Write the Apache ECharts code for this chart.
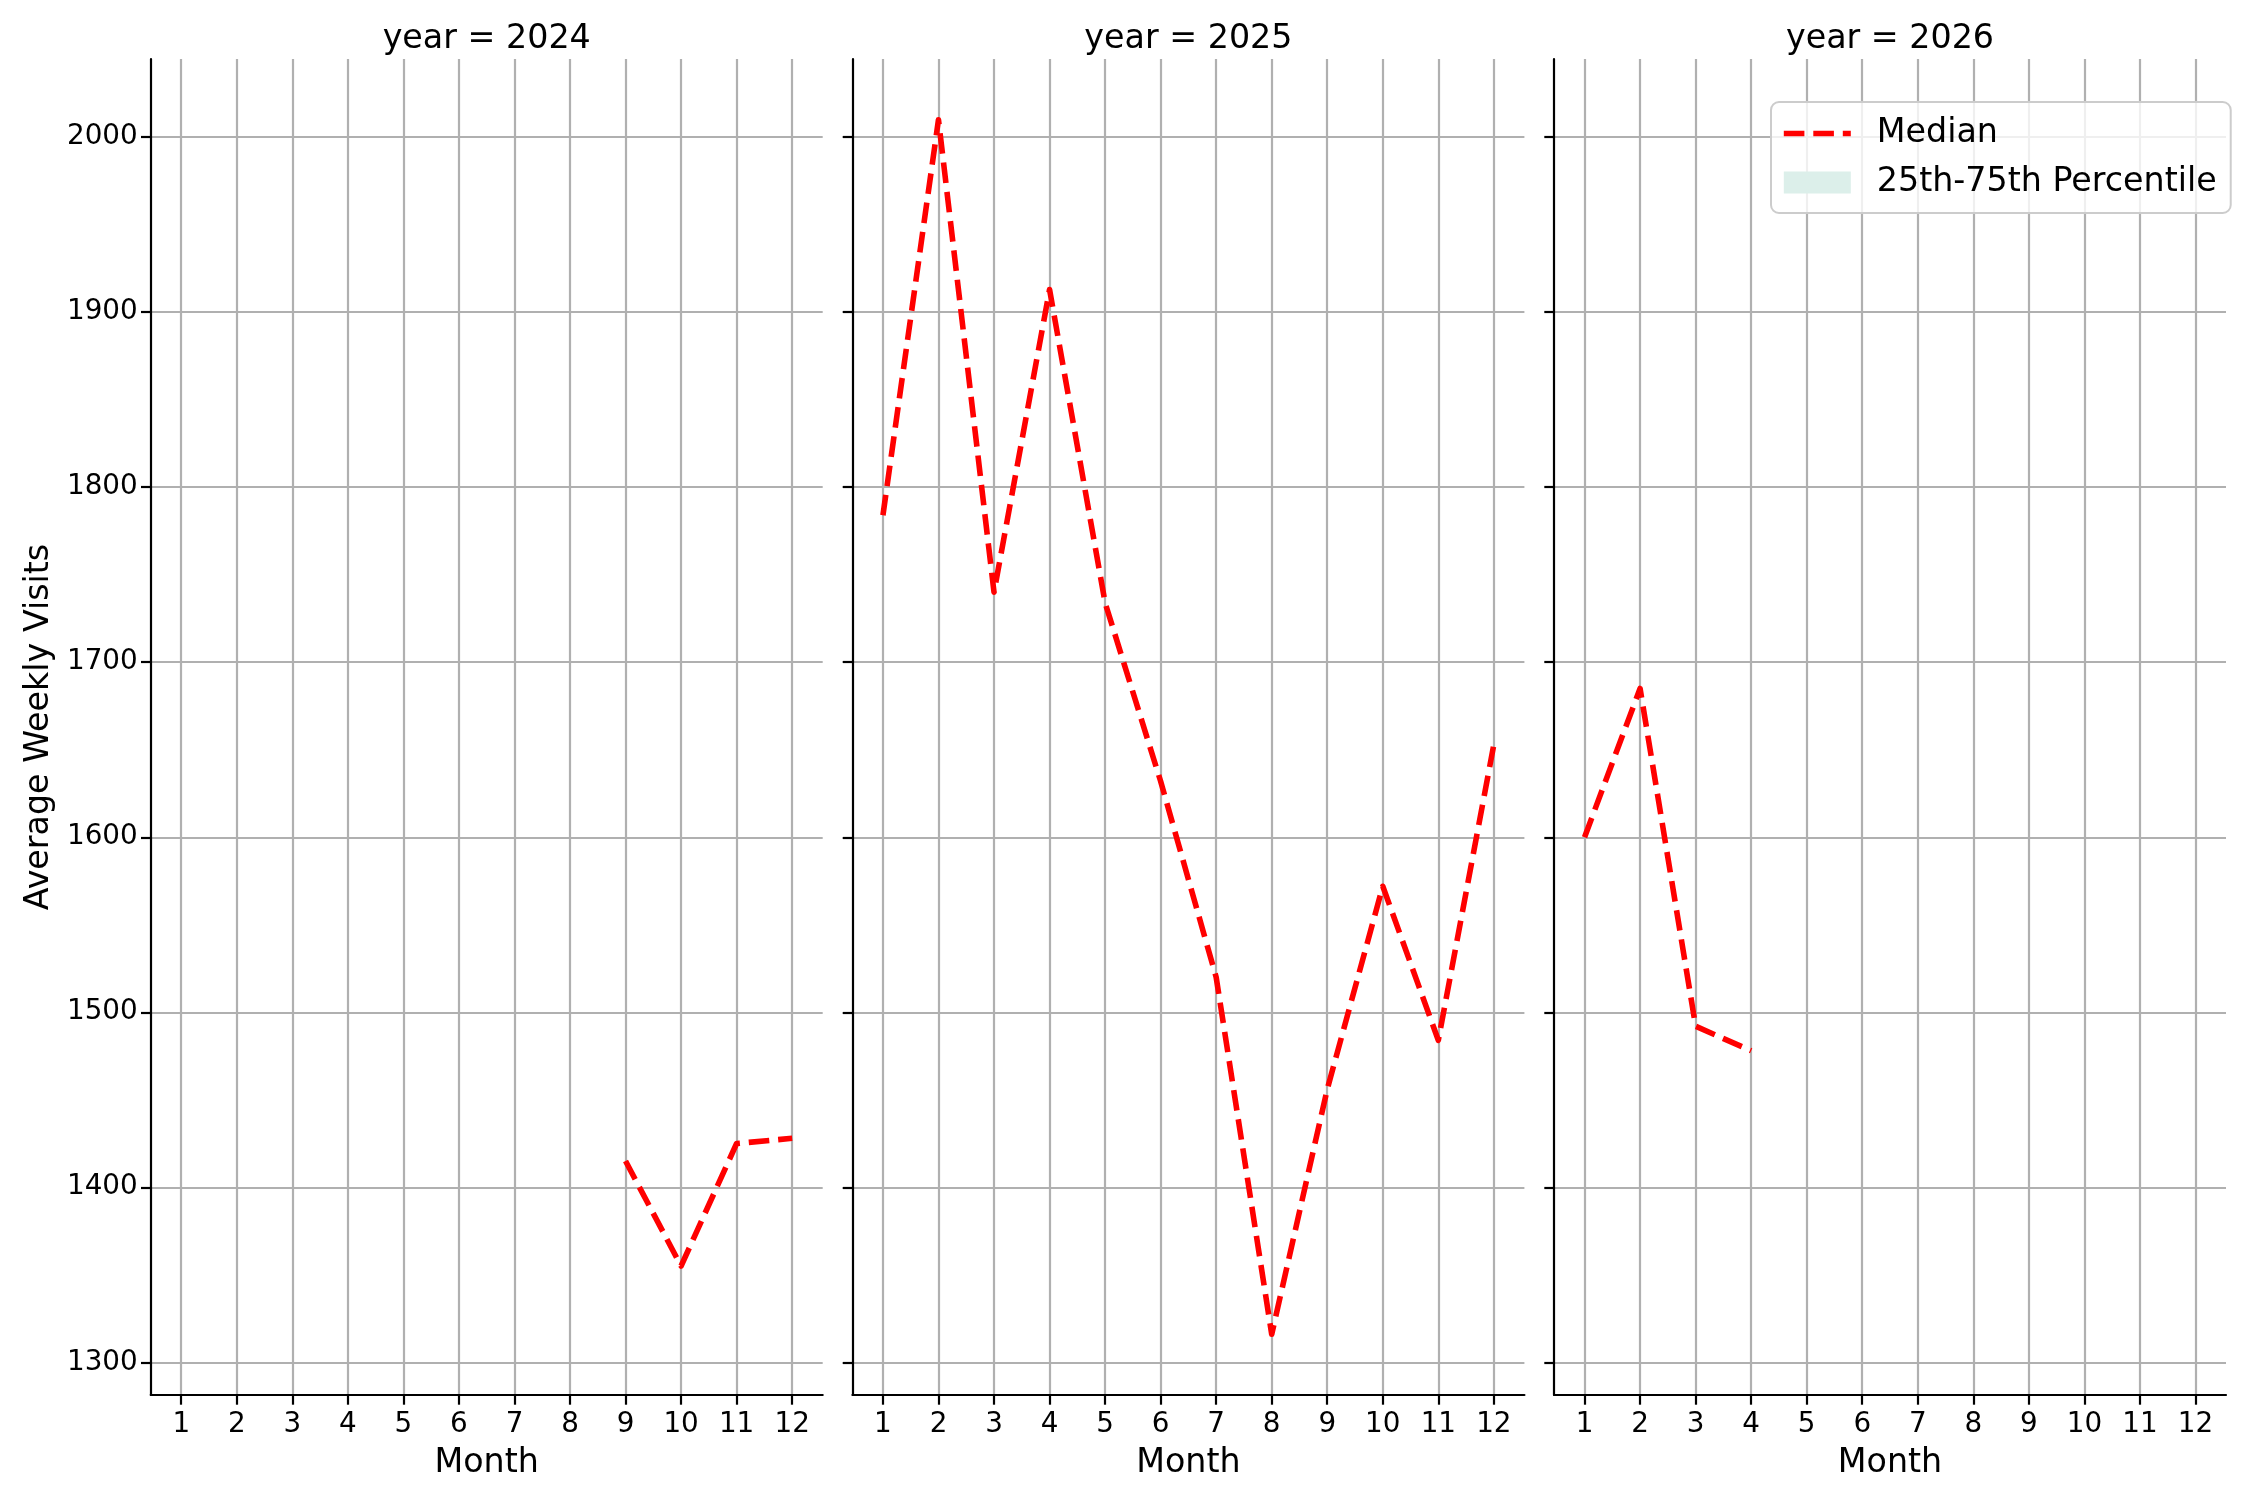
<!DOCTYPE html>
<html><head><meta charset="utf-8">
<script src="https://cdn.jsdelivr.net/npm/echarts@6/dist/echarts.min.js"></script>
<style>html,body{margin:0;padding:0;background:#fff}#c{width:2250px;height:1500px}</style>
</head><body><div id="c"></div>
<script>
// ---- data ----
const years = ['2024', '2025', '2026'];
const monthTicks = [1, 2, 3, 4, 5, 6, 7, 8, 9, 10, 11, 12];
const yTicks = [1300, 1400, 1500, 1600, 1700, 1800, 1900, 2000];
const months2024 = [9, 10, 11, 12];
const median2024 = [1415, 1355, 1425, 1428];
const months2025 = [1, 2, 3, 4, 5, 6, 7, 8, 9, 10, 11, 12];
const median2025 = [1784, 2010, 1740, 1913, 1734, 1632, 1520, 1316, 1456, 1572, 1484, 1653];
const months2026 = [1, 2, 3, 4];
const median2026 = [1600, 1685, 1492, 1478];
const seriesNames = ['Median', '25th-75th Percentile'];
const axisTitles = { x: 'Month', y: 'Average Weekly Visits' };

// ---- layout ----
const FONT = 'DejaVu Sans';
const panelLeft = [150.7, 852.4, 1554];
const panelWidth = 672;
const panelTop = 59;
const panelHeight = 1336;
const yMin = 1281.3, yMax = 2044.7;
const DASH = [20.6, 8.9];

const monthsByYear = [months2024, months2025, months2026];
const medianByYear = [median2024, median2025, median2026];

const grids = [], xAxes = [], yAxes = [], series = [], graphics = [];
years.forEach((yr, i) => {
  grids.push({ left: panelLeft[i], top: panelTop, width: panelWidth, height: panelHeight, containLabel: false, outerBoundsMode: 'none' });
  xAxes.push({
    gridIndex: i, type: 'value', min: 0.45, max: 12.55,
    axisLine: { show: true, onZero: false, lineStyle: { color: '#000', width: 2.2 } },
    axisTick: { show: true, length: 9.7, customValues: monthTicks, lineStyle: { color: '#000', width: 2.2 } },
    axisLabel: { customValues: monthTicks, margin: 16, fontSize: 27.8, color: '#000', fontFamily: FONT,
                 formatter: v => String(v) },
    splitLine: { show: true, lineStyle: { color: '#b0b0b0', width: 2.2 } },
    name: axisTitles.x, nameLocation: 'middle', nameGap: 52,
    nameTextStyle: { fontSize: 33.3, color: '#000', fontFamily: FONT }
  });
  yAxes.push({
    gridIndex: i, type: 'value', min: yMin, max: yMax,
    axisLine: { show: true, onZero: false, lineStyle: { color: '#000', width: 2.2 } },
    axisTick: { show: true, length: 9.7, customValues: yTicks, lineStyle: { color: '#000', width: 2.2 } },
    axisLabel: { show: i === 0, customValues: yTicks, margin: 13, fontSize: 27.8, color: '#000', fontFamily: FONT,
                 formatter: v => String(v) },
    splitLine: { show: true, lineStyle: { color: '#b0b0b0', width: 2.2 } },
    name: i === 0 ? axisTitles.y : '', nameLocation: 'middle', nameGap: 95, nameRotate: 90,
    nameTextStyle: { fontSize: 33.3, color: '#000', fontFamily: FONT }
  });
  series.push({
    type: 'line', name: seriesNames[0], xAxisIndex: i, yAxisIndex: i,
    data: monthsByYear[i].map((m, j) => [m, medianByYear[i][j]]),
    symbol: 'none', z: 5,
    lineStyle: { color: '#ff0000', width: 5.6, type: DASH, join: 'round' },
    itemStyle: { color: '#ff0000' }
  });
  graphics.push({
    type: 'text', x: panelLeft[i] + panelWidth / 2, y: 39,
    style: { text: 'year = ' + yr, font: '33.3px "' + FONT + '"', fill: '#000', textAlign: 'center', textVerticalAlign: 'middle' }
  });
});
series.push({
  type: 'line', name: seriesNames[1], xAxisIndex: 2, yAxisIndex: 2, data: [],
  symbol: 'none', lineStyle: { width: 0 }, itemStyle: { color: '#dcefea' },
  areaStyle: { color: '#dcefea' }
});

const chart = echarts.init(document.getElementById('c'));
chart.setOption({
  animation: false,
  backgroundColor: '#fff',
  grid: grids, xAxis: xAxes, yAxis: yAxes, series: series,
  graphic: graphics,
  legend: {
    orient: 'vertical', left: 1771, top: 102,
    padding: [15, 14, 14, 10],
    itemWidth: 67, itemHeight: 22, itemGap: 16,
    borderColor: '#cccccc', borderWidth: 2, borderRadius: 8,
    backgroundColor: 'rgba(255,255,255,0.8)',
    textStyle: { fontSize: 33.3, color: '#000', fontFamily: FONT, padding: [0, 0, 0, 21] },
    data: [
      { name: seriesNames[0], itemStyle: { opacity: 0 },
        lineStyle: { color: '#ff0000', width: 5.6, type: DASH, opacity: 1 } },
      { name: seriesNames[1], icon: 'rect', itemStyle: { color: '#dcefea' } }
    ]
  }
});
</script></body></html>
